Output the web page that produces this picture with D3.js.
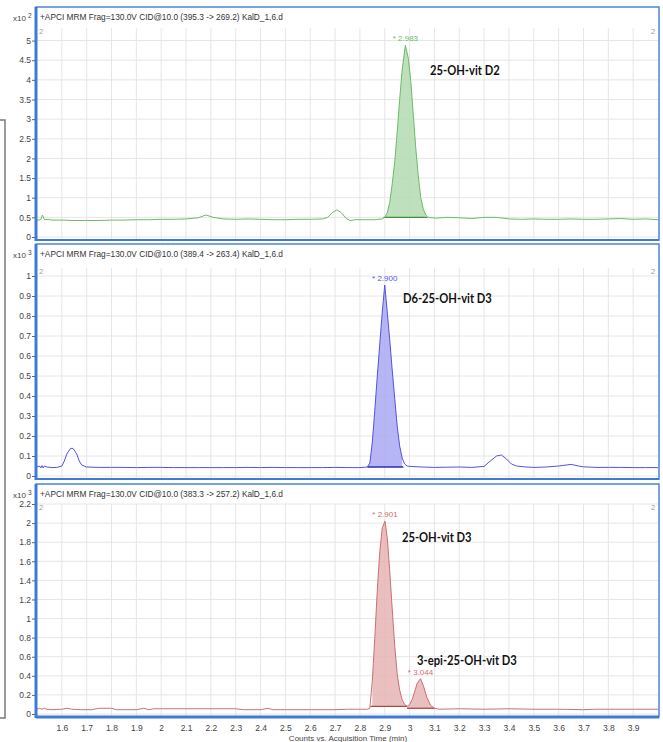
<!DOCTYPE html>
<html><head><meta charset="utf-8">
<script src="https://cdn.jsdelivr.net/npm/d3@7"></script>
<style>
html,body{margin:0;padding:0;background:#fff;}
svg{display:block;font-family:Arial,"Liberation Sans",sans-serif;}
</style></head>
<body>
<svg id="chart" width="663" height="742"></svg>
<script>
// ---------- DATA ----------
const xTicks = [1.6,1.7,1.8,1.9,2,2.1,2.2,2.3,2.4,2.5,2.6,2.7,2.8,2.9,3,3.1,3.2,3.3,3.4,3.5,3.6,3.7,3.8,3.9];
const xTickLabels = ["1.6","1.7","1.8","1.9","2","2.1","2.2","2.3","2.4","2.5","2.6","2.7","2.8","2.9","3","3.1","3.2","3.3","3.4","3.5","3.6","3.7","3.8","3.9"];
const xTitle = "Counts vs. Acquisition Time (min)";

const headers = [
  "+APCI MRM Frag=130.0V CID@10.0 (395.3 -> 269.2) KalD_1,6.d",
  "+APCI MRM Frag=130.0V CID@10.0 (389.4 -> 263.4) KalD_1,6.d",
  "+APCI MRM Frag=130.0V CID@10.0 (383.3 -> 257.2) KalD_1,6.d"
];
const exponents = ["2","3","3"];
const yMax = [5.32, 1.04, 2.2];
const yTicks1 = [0,0.5,1,1.5,2,2.5,3,3.5,4,4.5,5];
const yTicks2 = [0,0.1,0.2,0.3,0.4,0.5,0.6,0.7,0.8,0.9,1];
const yTicks3 = [0,0.2,0.4,0.6,0.8,1,1.2,1.4,1.6,1.8,2,2.2];
const yTickLabels1 = ["0","0.5","1","1.5","2","2.5","3","3.5","4","4.5","5"];
const yTickLabels2 = ["0","0.1","0.2","0.3","0.4","0.5","0.6","0.7","0.8","0.9","1"];
const yTickLabels3 = ["0","0.2","0.4","0.6","0.8","1","1.2","1.4","1.6","1.8","2","2.2"];

// 25-OH-vit D2 trace (x10^2 counts)
const timeD2 = [1.50,1.515,1.522,1.53,1.545,1.56,1.6,1.65,1.7,1.75,1.8,1.85,1.9,1.95,2.0,2.05,2.1,2.15,2.18,2.21,2.25,2.3,2.35,2.4,2.45,2.5,2.55,2.6,2.65,2.67,2.69,2.707,2.725,2.745,2.76,2.78,2.82,2.86,2.89,2.9,2.91,2.92,2.93,2.94,2.95,2.96,2.97,2.983,2.995,3.005,3.015,3.025,3.035,3.045,3.055,3.065,3.075,3.09,3.11,3.15,3.2,3.25,3.3,3.35,3.4,3.45,3.5,3.55,3.6,3.65,3.7,3.75,3.8,3.85,3.9,3.95,4.0];
const countsD2 = [0.43,0.44,0.56,0.44,0.45,0.43,0.43,0.42,0.42,0.42,0.43,0.43,0.44,0.44,0.45,0.45,0.46,0.49,0.56,0.5,0.46,0.45,0.46,0.45,0.44,0.44,0.45,0.45,0.46,0.5,0.63,0.69,0.62,0.47,0.42,0.44,0.44,0.44,0.46,0.5,0.62,0.88,1.35,1.9,2.65,3.5,4.25,4.88,4.55,3.95,3.1,2.25,1.55,1.0,0.72,0.56,0.5,0.49,0.48,0.5,0.49,0.47,0.5,0.5,0.46,0.45,0.46,0.45,0.45,0.46,0.45,0.45,0.46,0.47,0.45,0.46,0.44];

// D6-25-OH-vit D3 trace (x10^3 counts)
const timeD6 = [1.50,1.51,1.515,1.52,1.525,1.53,1.54,1.56,1.58,1.6,1.61,1.62,1.635,1.645,1.66,1.67,1.68,1.69,1.7,1.75,1.8,1.85,1.9,1.95,2.0,2.05,2.1,2.15,2.2,2.25,2.3,2.35,2.4,2.45,2.5,2.55,2.6,2.65,2.7,2.75,2.8,2.83,2.84,2.85,2.86,2.87,2.88,2.89,2.9,2.91,2.92,2.93,2.94,2.95,2.96,2.97,2.98,2.99,3.0,3.05,3.1,3.15,3.2,3.25,3.3,3.32,3.35,3.37,3.39,3.41,3.43,3.46,3.5,3.55,3.6,3.65,3.68,3.7,3.75,3.8,3.85,3.9,3.95,4.0];
const countsD6 = [0.045,0.05,0.04,0.052,0.04,0.05,0.045,0.042,0.043,0.05,0.075,0.11,0.138,0.138,0.11,0.075,0.055,0.05,0.045,0.043,0.043,0.043,0.042,0.043,0.043,0.042,0.042,0.042,0.042,0.042,0.042,0.043,0.042,0.043,0.042,0.042,0.042,0.042,0.043,0.042,0.042,0.045,0.065,0.17,0.33,0.5,0.66,0.82,0.955,0.82,0.68,0.53,0.39,0.25,0.15,0.09,0.06,0.05,0.048,0.045,0.043,0.044,0.045,0.043,0.048,0.07,0.1,0.105,0.085,0.06,0.05,0.046,0.043,0.045,0.05,0.058,0.05,0.046,0.043,0.043,0.043,0.042,0.042,0.042];

// 25-OH-vit D3 / 3-epi-25-OH-vit D3 trace (x10^3 counts)
const timeD3 = [1.50,1.51,1.52,1.53,1.54,1.56,1.6,1.62,1.64,1.68,1.72,1.75,1.8,1.82,1.85,1.9,1.93,1.95,1.97,2.0,2.1,2.2,2.3,2.33,2.4,2.43,2.45,2.5,2.6,2.7,2.75,2.8,2.83,2.84,2.85,2.86,2.87,2.88,2.89,2.901,2.91,2.92,2.93,2.94,2.95,2.96,2.97,2.98,2.99,3.0,3.01,3.02,3.03,3.044,3.055,3.07,3.085,3.1,3.12,3.2,3.3,3.4,3.5,3.6,3.7,3.75,3.8,3.9,4.0];
const countsD3 = [0.05,0.06,0.05,0.06,0.05,0.045,0.05,0.06,0.05,0.045,0.045,0.06,0.06,0.045,0.045,0.045,0.06,0.045,0.055,0.055,0.055,0.055,0.055,0.045,0.045,0.06,0.045,0.045,0.045,0.045,0.05,0.05,0.05,0.06,0.35,0.8,1.3,1.7,1.95,2.02,1.85,1.5,1.1,0.72,0.42,0.25,0.15,0.1,0.08,0.1,0.15,0.23,0.32,0.37,0.3,0.17,0.09,0.06,0.05,0.055,0.05,0.055,0.05,0.05,0.045,0.05,0.05,0.05,0.05];

// integrated peak ranges [start, end]
const peakRanges = [[[2.895,3.072]], [[2.83,2.975]], [[2.842,2.99],[2.99,3.1]]];
// peak annotations: retention time, apex value
const peakRT = [["2.983"],["2.900"],["2.901","3.044"]];
const peakApex = [[[2.983,4.88]],[[2.9,0.955]],[[2.901,2.02],[3.044,0.37]]];
// compound names with anchor (time, value)
const compoundNames = ["25-OH-vit D2","D6-25-OH-vit D3","25-OH-vit D3","3-epi-25-OH-vit D3"];
const compoundPanel = [0,1,2,2];
const compoundAt = [[3.082,4.2],[2.973,0.88],[2.969,1.84],[3.03,0.545]];

// ---------- STYLE / LAYOUT ----------
const series = [
  {t: timeD2, v: countsD2, line:"#6cba6c", fill:"#b4dbb0", dark:"#3f8f3f", ticks:yTicks1, labels:yTickLabels1},
  {t: timeD6, v: countsD6, line:"#5252e6", fill:"#a9a9f2", dark:"#2b2bb8", ticks:yTicks2, labels:yTickLabels2},
  {t: timeD3, v: countsD3, line:"#cc7070", fill:"#e6b4b4", dark:"#b04646", ticks:yTicks3, labels:yTickLabels3}
];
const panels = [
  {boxTop:7,   plotTop:28,  zeroY:237, boxBottom:240},
  {boxTop:244, plotTop:268, zeroY:476, boxBottom:479},
  {boxTop:484, plotTop:504, zeroY:714, boxBottom:717}
];
const left = 37, right = 658;
const blue = "#3f7bd6";
const narrowFactor = 0.83;

const svg = d3.select("#chart");
const x = d3.scaleLinear().domain([1.5, 4.0]).range([left, right]);

// left bracket
svg.append("path").attr("d","M0,120H5V718H0").attr("fill","none").attr("stroke","#7a7a7a").attr("stroke-width",1.5);

panels.forEach((p, i) => {
  const s = series[i];
  const y = d3.scaleLinear().domain([0, yMax[i]]).range([p.zeroY, p.plotTop]);
  const g = svg.append("g");

  // grid
  g.selectAll(".vg").data(xTicks).enter().append("line")
    .attr("x1", d => x(d)).attr("x2", d => x(d))
    .attr("y1", p.plotTop).attr("y2", p.boxBottom)
    .attr("stroke", "#e6e6e6").attr("stroke-width", 1);
  g.selectAll(".hg").data(s.ticks).enter().append("line")
    .attr("x1", left).attr("x2", right)
    .attr("y1", d => y(d)).attr("y2", d => y(d))
    .attr("stroke", "#e6e6e6").attr("stroke-width", 1);

  // filled integrated peaks
  const idx = s.t.map((d, k) => k);
  peakRanges[i].forEach(r => {
    const pts = idx.filter(k => s.t[k] >= r[0] - 1e-9 && s.t[k] <= r[1] + 1e-9);
    const base = Math.min(s.v[pts[0]], s.v[pts[pts.length - 1]]);
    const area = d3.area().x(k => x(s.t[k])).y0(y(base)).y1(k => y(s.v[k]));
    g.append("path").datum(pts).attr("d", area).attr("fill", s.fill).attr("fill-opacity", 0.85);
    g.append("line").attr("x1", x(r[0])).attr("x2", x(r[1]))
      .attr("y1", y(base)).attr("y2", y(base))
      .attr("stroke", s.dark).attr("stroke-width", 1.3);
  });

  // trace
  const line = d3.line().x(k => x(s.t[k])).y(k => y(s.v[k]));
  g.append("path").datum(idx).attr("d", line)
    .attr("fill", "none").attr("stroke", s.line).attr("stroke-width", 1);

  // box
  g.append("rect").attr("x", 36).attr("y", p.boxTop)
    .attr("width", 659 - 36).attr("height", p.boxBottom - p.boxTop)
    .attr("fill", "none").attr("stroke", blue).attr("stroke-width", 1.4);
  g.append("line").attr("x1", 36).attr("x2", 36).attr("y1", p.boxTop).attr("y2", p.boxBottom + 1)
    .attr("stroke", blue).attr("stroke-width", 3);
  g.append("line").attr("x1", 36).attr("x2", 659).attr("y1", p.boxBottom).attr("y2", p.boxBottom)
    .attr("stroke", blue).attr("stroke-width", i === 2 ? 3 : 2);

  // y axis
  const yAxis = d3.axisLeft(y).tickValues(s.ticks).tickFormat((d, k) => s.labels[k]).tickSize(3).tickPadding(1);
  const ya = g.append("g").attr("transform", `translate(35,0)`).call(yAxis);
  ya.select(".domain").remove();
  ya.selectAll("line").attr("stroke", "#666");
  ya.selectAll("text").attr("fill", "#444").style("font-size", "8.5px").style("font-family", "Arial, 'Liberation Sans', sans-serif");

  // header & exponent
  g.append("text").attr("x", 40).attr("y", p.boxTop + 13).attr("fill", "#333")
    .style("font-size", "8.3px").text(headers[i]);
  const ex = g.append("text").attr("x", 13).attr("y", p.boxTop + 14).attr("fill", "#444").style("font-size", "8px");
  ex.append("tspan").text("x10");
  ex.append("tspan").attr("dx", 2).attr("dy", -3).style("font-size", "6.5px").text(exponents[i]);

  // small "2" markers
  g.append("text").attr("x", 39).attr("y", p.plotTop + 6).attr("fill", "#999").style("font-size", "7.5px").text("2");
  g.append("text").attr("x", 651).attr("y", p.plotTop + 6).attr("fill", "#999").style("font-size", "7.5px").text("2");

  // peak RT labels
  peakApex[i].forEach((a, k) => {
    g.append("text").attr("x", x(a[0])).attr("y", y(a[1]) - 4)
      .attr("text-anchor", "middle").attr("fill", s.line).style("font-size", "8px")
      .text("* " + peakRT[i][k]);
  });

  // compound names (narrow bold look)
  compoundNames.forEach((n, k) => {
    if (compoundPanel[k] !== i) return;
    const t = g.append("text").attr("x", x(compoundAt[k][0])).attr("y", y(compoundAt[k][1]))
      .attr("dominant-baseline", "middle").attr("fill", "#111")
      .style("font-size", "13.5px").style("font-weight", "bold")
      .style("font-family", "Lato, 'Open Sans', sans-serif")
      .text(n);
    const w = t.node().getComputedTextLength();
    t.attr("textLength", w * narrowFactor).attr("lengthAdjust", "spacingAndGlyphs");
  });

  // x axis only on last panel
  if (i === 2) {
    const xAxis = d3.axisBottom(x).tickValues(xTicks).tickFormat((d, k) => xTickLabels[k]).tickSize(0).tickPadding(8);
    const xa = g.append("g").attr("transform", `translate(0,${p.boxBottom})`).call(xAxis);
    xa.select(".domain").remove();
    xa.selectAll("text").attr("fill", "#444").style("font-size", "8.5px").style("font-family", "Arial, 'Liberation Sans', sans-serif");
  }
});

svg.append("text").attr("x", 348).attr("y", 741).attr("text-anchor", "middle")
  .attr("fill", "#444").style("font-size", "8px").text(xTitle);
</script>
</body></html>
